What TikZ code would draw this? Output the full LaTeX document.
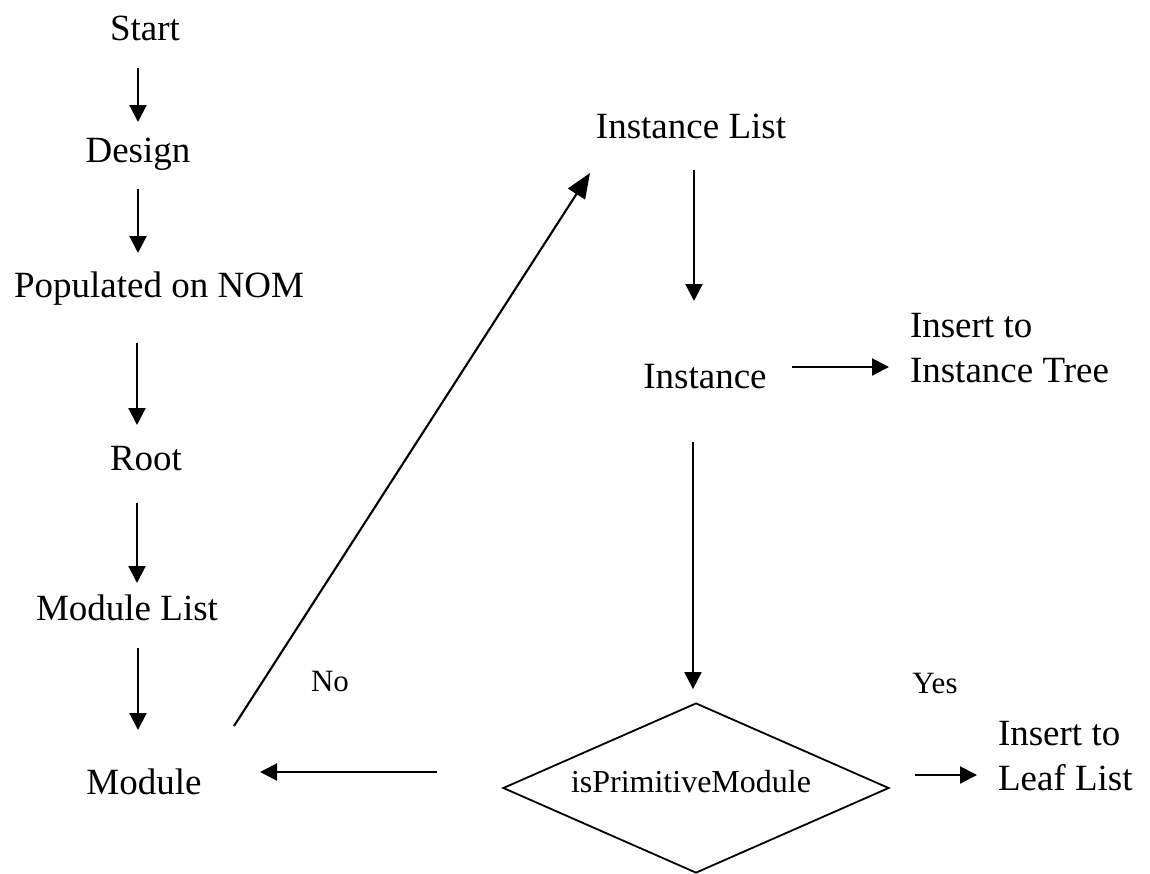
\documentclass[tikz,border=0pt]{standalone}
\usepackage{fontspec}
\setmainfont{Liberation Serif}
\usetikzlibrary{arrows.meta,shapes.geometric,calc}

\tikzset{
  txt/.style={font=\fontsize{37}{45}\selectfont, inner sep=0pt, outer sep=0pt, anchor=base},
  twoline/.style={font=\fontsize{37}{45}\selectfont, inner sep=0pt, outer sep=0pt, align=left, anchor=north west},
  small/.style={font=\fontsize{31}{37}\selectfont, inner sep=0pt, anchor=base},
  decision/.style={draw, line width=1.8pt, diamond, inner sep=0pt, minimum width=386pt, minimum height=170pt},
  arr/.style={line width=2.1pt, -{Triangle[length=17pt,width=17pt]}},
  bigarr/.style={line width=2.1pt, -{Triangle[length=25pt,width=20pt]}}
}

\begin{document}
\begin{tikzpicture}[x=1pt,y=-1pt]
\useasboundingbox (0,0) rectangle (1150,873);

% left column
\node[txt] (start)     at (145,40)  {Start};
\node[txt] (design)    at (138,162) {Design};
\node[txt] (populated) at (159,297) {Populated on NOM};
\node[txt] (root)      at (146,470) {Root};
\node[txt] (modlist)   at (127,620) {Module List};
\node[txt] (module)    at (144,794) {Module};

% right column
\node[txt] (instlist)  at (691,138) {Instance List};
\node[txt] (instance)  at (705,388) {Instance};
\node[twoline] (treeins) at (910,313) {Insert to\\Instance Tree};

% decision
\node[decision] (dia) at (696,788) {};
\node[font=\fontsize{32}{38}\selectfont, inner sep=0pt, anchor=base] (isprim) at (691,792) {isPrimitiveModule};
\node[twoline] (leafins) at (998,721) {Insert to\\Leaf List};

% branch labels
\node[small] (no)  at (330,691) {No};
\node[small] (yes) at (935,693) {Yes};

% left chain
\draw[arr] ($(start.base)+(-7,28)$)     -- ($(design.base)+(0,-40)$);
\draw[arr] ($(design.base)+(0,27)$)     -- ($(populated.base)+(-21,-44)$);
\draw[arr] ($(populated.base)+(-22,46)$) -- ($(root.base)+(-9,-45)$);
\draw[arr] ($(root.base)+(-9,33)$)      -- ($(modlist.base)+(10,-37)$);
\draw[arr] ($(modlist.base)+(11,28)$)   -- ($(module.base)+(-6,-64)$);

% module back to instance list
\draw[bigarr] ($(module.base)+(90,-68)$) -- ($(instlist.base)+(-101,35)$);

% right chain
\draw[arr] ($(instlist.base)+(3,32)$)   -- ($(instance.base)+(-11,-87)$);
\draw[arr] ($(instance.base)+(87,-21)$) -- ($(treeins.north west)+(-21,54)$);
\draw[arr] ($(instance.base)+(-12,54)$) -- ($(dia.north)+(-3,-13)$);

% decision outcomes
\draw[arr] ($(dia.west)+(-65,-16)$) -- ($(module.base)+(116,-22)$);
\draw[arr] ($(dia.east)+(25,-13)$)  -- ($(leafins.north west)+(-21,54)$);
\end{tikzpicture}
\end{document}
